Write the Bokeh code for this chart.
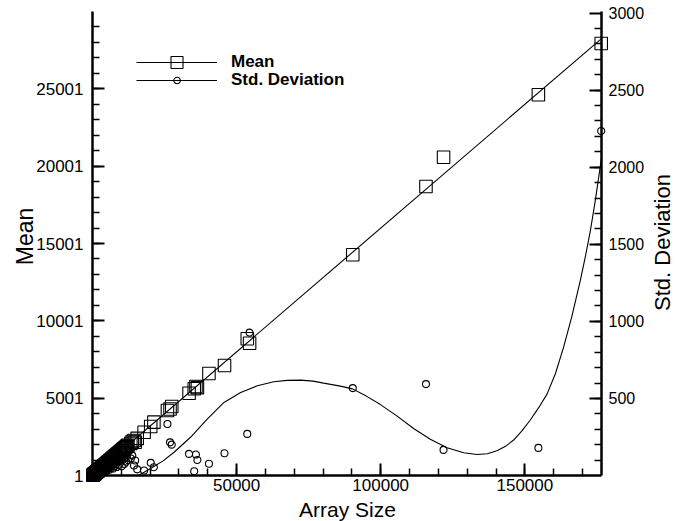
import math
from bokeh.plotting import figure
from bokeh.models import (Range1d, LinearAxis, FixedTicker, Legend, LegendItem,
                          NumeralTickFormatter)
from bokeh.core.properties import value
from bokeh.embed import file_html
from bokeh.resources import INLINE

# ---------------- data ----------------
array_size = [176500, 154700, 121800, 115700, 90300, 54500, 53700, 45800, 40400,
              36400, 35900, 35300, 33500, 27500, 26900, 26000, 21300, 20200, 17900,
              15500, 14800, 14400, 13800, 13300,
              12300, 12000, 11700, 11400, 11100, 10800, 10500, 10200, 9900, 9600,
              9300, 9000, 8700, 8400, 8100, 7800, 7500, 7200, 6900, 6600, 6300,
              6000, 5700, 5400, 5100, 4800, 4500, 4200, 3900, 3600, 3300, 3000,
              2750, 2500, 2250, 2000, 1800, 1600, 1400, 1200, 1000, 850, 700,
              550, 400, 250, 100]
mean_vals = [27930, 24620, 20580, 18690, 14270, 8554, 8840, 7110, 6600,
             5680, 5760, 5610, 5320, 4460, 4300, 4200, 3450, 3170, 2800,
             2400, 2150, 2260, 2200, 2080,
             1960, 1900, 1870, 1800, 1770, 1710, 1680, 1610, 1580, 1520,
             1480, 1420, 1390, 1330, 1290, 1240, 1200, 1140, 1100, 1050, 1000,
             950, 910, 850, 815, 760, 720, 660, 625, 570, 530, 470,
             440, 395, 360, 315, 290, 255, 220, 195, 160, 135, 110,
             90, 65, 40, 15]
std_vals = [2235, 179, 166, 593, 567, 927, 270, 144, 76,
            101, 136, 28, 140, 200, 215, 334, 54, 82, 32,
            40, 97, 65, 129, 110,
            100, 135, 90, 115, 75, 125, 105, 60, 130, 95,
            70, 120, 85, 55, 110, 62, 100, 45, 90, 50, 80,
            38, 70, 42, 60, 30, 55, 35, 45, 28, 40, 22,
            30, 18, 25, 14, 20, 11, 15, 9, 12, 6, 8,
            4, 5, 3, 1]

# linear fit of the mean (end points)
mean_fit_x = [0, 176600]
mean_fit_y = [0, 28250]

# smooth fit of the standard deviation
std_fit_x = [15800, 17900, 21000, 24500, 28300, 34000, 39800, 45600, 51400,
             57200, 62900, 67500, 72200, 76500, 80200, 86000, 90200, 95000, 99900,
             105700, 111400, 117200, 123000, 128800, 133400, 137000, 140300, 143500,
             146100, 149000, 151900, 154800, 157700, 160600, 163400, 166300, 169200,
             171000, 172700, 174500, 176600]
std_fit_y = [0, 21, 55, 95, 151, 248, 366, 474, 539,
             582, 608, 617, 619, 612, 599, 580, 562, 515, 460,
             385, 305, 235, 180, 148, 136, 141, 160, 192,
             230, 290, 360, 440, 528, 660, 830, 1030, 1261,
             1420, 1584, 1790, 2060]

mean_ticks = [1, 5001, 10001, 15001, 20001, 25001]
mean_minor = [1 + 1000 * k for k in range(1, 30)]
std_ticks = [500, 1000, 1500, 2000, 2500, 3000]
std_minor = [100 * k for k in range(1, 30)]
x_ticks = [50000, 100000, 150000]
x_minor = [10000 * k for k in range(1, 18)]

X_END = 176600                 # end of the x axis
MEAN_START, MEAN_END = 1, 30001
STD_END = 3010
FONT = "Liberation Sans"

# ---------------- layout (pixels) ----------------
W, H = 684, 521
AX_L, AX_R, AX_T, AX_B = 92, 601, 11, 475     # where the axes are drawn
ppx = X_END / (AX_R - AX_L)                    # data units per pixel
ppm = (MEAN_END - MEAN_START) / (AX_B - AX_T)
pps = STD_END / (AX_B - AX_T)

def dx(px):
    return (px - AX_L) * ppx

def dm(py):
    return MEAN_START + (AX_B - py) * ppm

def ds(py):
    return (AX_B - py) * pps

# the frame fills the whole canvas; axes are pinned at fixed locations
p = figure(width=W, height=H, output_backend="svg", toolbar_location=None,
           x_range=Range1d(dx(0), dx(W)), y_range=Range1d(dm(H), dm(0)),
           min_border=0)
p.extra_y_ranges = {"std": Range1d(ds(H), ds(0))}
p.grid.visible = False
p.outline_line_color = None
p.background_fill_color = "white"
p.border_fill_color = "white"
for ax in list(p.xaxis) + list(p.yaxis):
    ax.visible = False

# fits
p.line(mean_fit_x, mean_fit_y, line_color="black", line_width=1.1)
p.line(std_fit_x, std_fit_y, line_color="black", line_width=1.1,
       y_range_name="std")

# data markers
mean_sc = p.scatter(array_size, mean_vals, marker="square", size=12.5,
                    fill_color=None, line_color="black", line_width=1.1)
std_sc = p.scatter(array_size, std_vals, marker="circle", size=7,
                   fill_color=None, line_color="black", line_width=1.1,
                   y_range_name="std")

# legend glyph renderers (line + marker), kept out of view
leg_line1 = p.line([0, 1], [-1e6, -1e6], line_color="black", line_width=1.1)
leg_line2 = p.line([0, 1], [-1e6, -1e6], line_color="black", line_width=1.1)

def style_axis(ax, size="17px"):
    ax.axis_line_width = 2.5
    ax.axis_line_color = "black"
    ax.major_tick_in = 12
    ax.major_tick_out = 0
    ax.minor_tick_in = 7
    ax.minor_tick_out = 0
    ax.major_tick_line_width = 2
    ax.minor_tick_line_width = 1.5
    ax.major_tick_line_color = "black"
    ax.minor_tick_line_color = "black"
    ax.major_label_text_font = FONT
    ax.major_label_text_font_size = size
    ax.major_label_text_color = "black"
    ax.formatter = NumeralTickFormatter(format="0")

xa = LinearAxis(fixed_location=MEAN_START, bounds=(0, X_END),
                ticker=FixedTicker(ticks=x_ticks, minor_ticks=x_minor))
style_axis(xa, "17px")
xa.major_label_standoff = 3
p.add_layout(xa, "below")

ya = LinearAxis(fixed_location=0, bounds=(MEAN_START, MEAN_END),
                ticker=FixedTicker(ticks=mean_ticks, minor_ticks=mean_minor))
style_axis(ya, "17px")
ya.major_label_standoff = 9
p.add_layout(ya, "left")

ra = LinearAxis(y_range_name="std", fixed_location=X_END, bounds=(0, STD_END),
                ticker=FixedTicker(ticks=std_ticks, minor_ticks=std_minor))
style_axis(ra, "16px")
ra.major_label_standoff = 7
p.add_layout(ra, "right")

# axis titles
p.text(x=[dx(347)], y=[dm(509)], text=["Array Size"], text_align="center",
       text_baseline="alphabetic", text_font=value(FONT), text_font_size="21px",
       text_color="black")
p.text(x=[dx(24)], y=[dm(236)], text=["Mean"], angle=math.pi / 2,
       text_align="center", text_baseline="middle", text_font=value(FONT),
       text_font_size="23px", text_color="black")
p.text(x=[dx(662)], y=[ds(242)], text=["Std. Deviation"], y_range_name="std",
       angle=math.pi / 2, text_align="center", text_baseline="middle",
       text_font=value(FONT), text_font_size="22px", text_color="black")

# legend (two blocks so that each marker keeps its own size)
leg1 = Legend(items=[LegendItem(label="Mean", renderers=[leg_line1, mean_sc])],
              location=(136, H - 62 - 15), glyph_width=81, glyph_height=30,
              label_height=30, label_standoff=14, padding=0, margin=0,
              border_line_color=None, background_fill_alpha=0,
              label_text_font=FONT, label_text_font_size="17px",
              label_text_font_style="bold", label_text_color="black")
leg2 = Legend(items=[LegendItem(label="Std. Deviation", renderers=[leg_line2, std_sc])],
              location=(136, H - 82 - 8), glyph_width=81, glyph_height=16,
              label_height=16, label_standoff=14, padding=0, margin=0,
              border_line_color=None, background_fill_alpha=0,
              label_text_font=FONT, label_text_font_size="17px",
              label_text_font_style="bold", label_text_color="black")
p.add_layout(leg1, "center")
p.add_layout(leg2, "center")

open("out.html", "w").write(file_html(p, INLINE))
